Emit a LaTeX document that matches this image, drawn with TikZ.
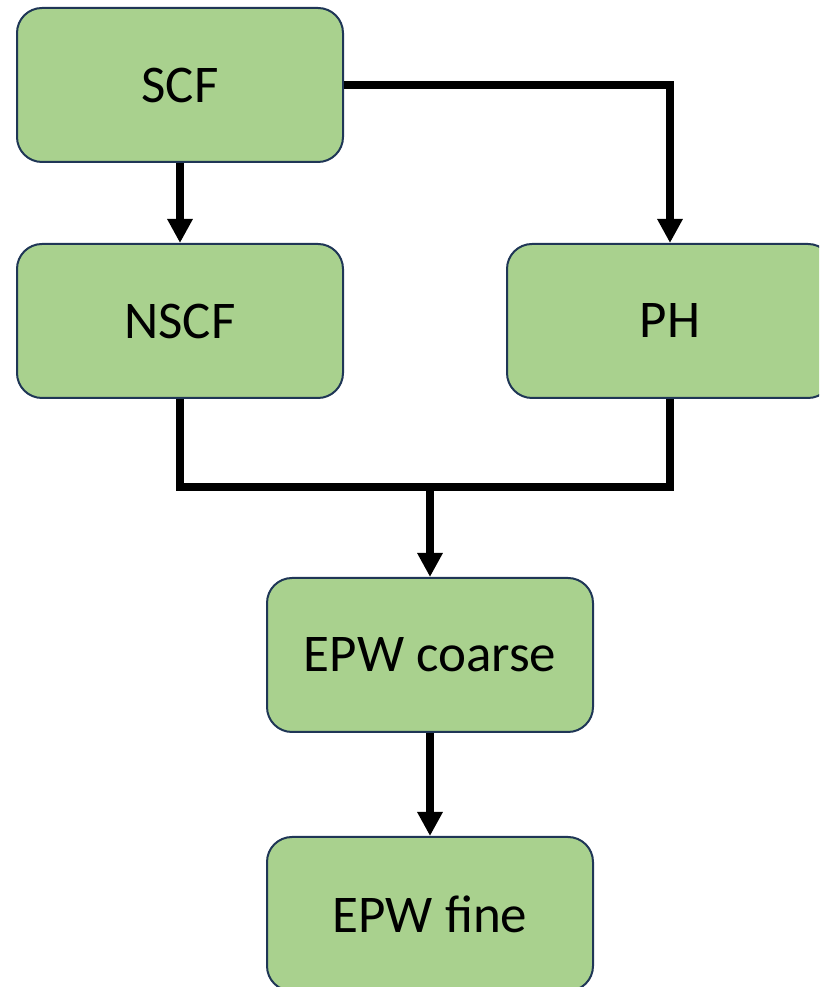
\documentclass[tikz,border=0pt]{standalone}
\usepackage{fontspec}
\setmainfont{Carlito}
\usepackage{xcolor}
\usepackage{tikz}
\usetikzlibrary{arrows.meta, positioning, calc}

\definecolor{stepgreen}{HTML}{A9D18E}
\definecolor{stepedge}{HTML}{1F3656}

\begin{document}
\begin{tikzpicture}[
  x=1pt, y=1pt,
  stage/.style={draw=stepedge, line width=2pt, fill=stepgreen, rounded corners=25pt,
    minimum width=326pt, minimum height=154pt, font=\fontsize{53}{60}\selectfont},
  flow/.style={line width=8pt, line join=miter, -{Triangle[length=24pt, width=24pt]}},
  link/.style={line width=8pt, line join=miter},
]
\clip (0,0) rectangle (819,987);
\node[stage] (scf) at (180,902) {SCF};
\node[stage] (nscf) at (180,666) {NSCF};
\node[stage] (ph) at (670,666) {PH};
\node[stage] (coarse) at (430,332) {EPW coarse};
\node[stage] (fine) at (430,73) {EPW fine};
\coordinate (join) at (430,500);

\draw[flow] (scf) -- (nscf);
\draw[flow] (scf.east) -| (ph.north);
\draw[link] (nscf.south) |- (join) -| (ph.south);
\draw[flow] (join) -- (coarse.north);
\draw[flow] (coarse) -- (fine);
\end{tikzpicture}
\end{document}
